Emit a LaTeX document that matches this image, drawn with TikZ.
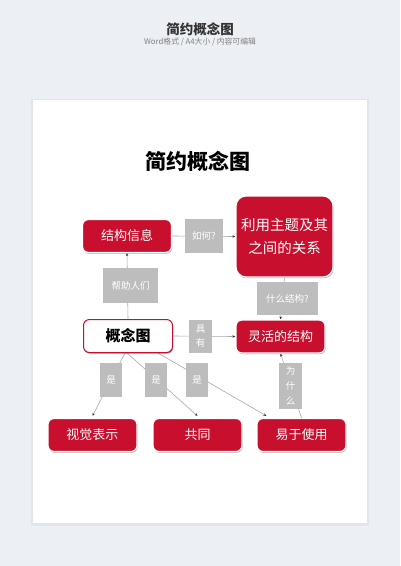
\documentclass[tikz,border=0pt]{standalone}
\usepackage{fontspec}
\setmainfont{Noto Sans CJK SC}
\usetikzlibrary{shadows,calc,arrows.meta}
\pgfdeclarelayer{back}
\pgfdeclarelayer{bg}
\pgfsetlayers{back,bg,main}
\definecolor{pagebg}{HTML}{ECEFF4}
\definecolor{cred}{HTML}{C8102E}
\definecolor{lblgray}{HTML}{BDBDBD}
\definecolor{linegray}{HTML}{A8A8A8}
\tikzset{
  redbox/.style={fill=cred, draw=white, line width=1.2pt, rounded corners=6pt,
    text=white, font=\fontsize{13}{15}\selectfont, minimum width=89pt, minimum height=33pt,
    inner sep=0pt, drop shadow={shadow xshift=0.6pt, shadow yshift=-1.2pt, fill=black, opacity=0.35}},
  lbl/.style={fill=lblgray, text=white, font=\fontsize{9.5}{14}\selectfont, inner sep=0pt, align=center},
  conn/.style={draw=linegray, line width=0.6pt},
  arr/.style={conn, -{Stealth[length=3pt,width=2.5pt,color=black!80]}},
}
\begin{document}
\begin{tikzpicture}[x=1pt,y=-1pt]
\useasboundingbox (0,0) rectangle (400,566);
\begin{pgfonlayer}{back}
\fill[pagebg] (0,0) rectangle (400,566);
\fill[black, opacity=0.04] (31,99) rectangle (369,526);
\fill[white] (33,100) rectangle (367,523);
\end{pgfonlayer}
% header
\node (htitle) at (200,29) {\fontsize{13.5}{15}\selectfont\bfseries\color{black!80}简约概念图};
\node (hsub) at (200,42) {\fontsize{7.8}{9}\selectfont\color{black!50}Word格式 / A4大小 / 内容可编辑};
\node (ctitle) at (198,161) {\fontsize{21}{24}\selectfont\bfseries 简约概念图};
% main nodes
\node[redbox] (jgxx) at (127,236) {结构信息};
\node[redbox, rounded corners=10pt, minimum width=97pt, minimum height=81pt, align=center,
  font=\fontsize{14.5}{23.5}\selectfont] (lyzt) at (284.5,236.5) {利用主题及其\\之间的关系};
\node[redbox, fill=white, draw=cred, line width=1pt, text=black, font=\fontsize{15}{17}\selectfont\bfseries,
  drop shadow={shadow xshift=0.4pt, shadow yshift=-0.8pt, fill=black, opacity=0.15}] (gnt) at (128,336) {概念图};
\node[redbox] (lhjg) at (280.5,336.5) {灵活的结构};
\node[redbox] (sjbs) at (92.5,435) {视觉表示};
\node[redbox] (gt) at (197.5,435) {共同};
\node[redbox] (ysyy) at (301.5,435) {易于使用};
% label boxes
\node[lbl, minimum width=38pt, minimum height=34pt] (ruhe) at (204,236) {如何?};
\node[lbl, minimum width=55pt, minimum height=35pt] (bzrm) at (130.5,285.5) {帮助人们};
\node[lbl, minimum width=61pt, minimum height=33pt] (smjg) at (287.5,298.5) {什么结构?};
\node[lbl, minimum width=23pt, minimum height=33pt] (juyou) at (200.5,336.5) {具\\有};
\node[lbl, minimum width=22pt, minimum height=34pt] (shi1) at (111,380) {是};
\node[lbl, minimum width=22pt, minimum height=34pt] (shi2) at (156,380) {是};
\node[lbl, minimum width=22pt, minimum height=34pt] (shi3) at (197,380) {是};
\node[lbl, minimum width=23pt, minimum height=46pt, font=\fontsize{9.5}{15}\selectfont] (wsm) at (290.5,386) {为\\什\\么};
% connectors
\begin{pgfonlayer}{bg}
\draw[arr] (jgxx.east) -- (lyzt.west);
\draw[arr] (gnt.north) -- (jgxx.south);
\draw[arr] (lyzt.south) -- (lhjg.north);
\draw[arr] (gnt.east) -- (lhjg.west);
\draw[arr] ($(gnt.south)+(-3,0)$) -- ($(sjbs.north)+(0,-2)$);
\draw[arr] ($(gnt.south)+(-1,0)$) -- ($(gt.north)+(0,-2)$);
\draw[arr] ($(gnt.south)+(30,0)$) -- ($(ysyy.north west)+(10,-2)$);
\draw[arr] (ysyy.north) -- (lhjg.south);
\end{pgfonlayer}
\end{tikzpicture}
\end{document}
